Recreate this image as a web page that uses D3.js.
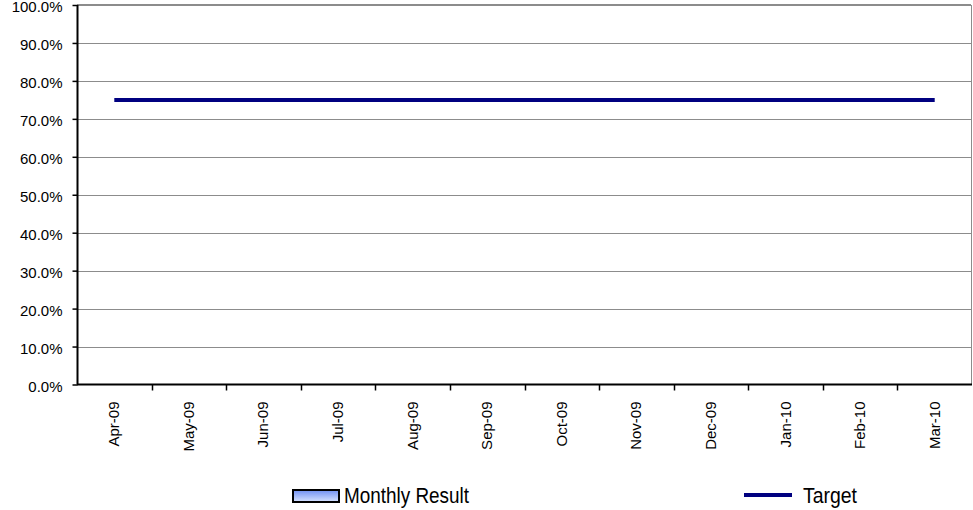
<!DOCTYPE html>
<html>
<head>
<meta charset="utf-8">
<script src="https://cdn.jsdelivr.net/npm/d3@7"></script>
<style>
  html, body { margin: 0; padding: 0; background: #fff; }
  svg { display: block; font-family: "Liberation Sans", Arial, sans-serif; }
</style>
</head>
<body>
<svg id="chart" width="973" height="510"></svg>
<script>
// Months of the reporting year
const months = ["Apr-09", "May-09", "Jun-09", "Jul-09", "Aug-09", "Sep-09",
                "Oct-09", "Nov-09", "Dec-09", "Jan-10", "Feb-10", "Mar-10"];
// Monthly result (no results recorded yet)
const monthlyResult = [null, null, null, null, null, null, null, null, null, null, null, null];
// Target rate for each month
const target = [0.75, 0.75, 0.75, 0.75, 0.75, 0.75, 0.75, 0.75, 0.75, 0.75, 0.75, 0.75];
// Y-axis ticks
const yTicks = [0, 0.1, 0.2, 0.3, 0.4, 0.5, 0.6, 0.7, 0.8, 0.9, 1.0];

const svg = d3.select("#chart");
const m = { left: 77, right: 972, top: 5, bottom: 384.5 };

const x = d3.scaleBand().domain(months).range([m.left, m.right]).paddingInner(0.5).paddingOuter(0.25);
const xPos = d3.scalePoint().domain(months).range([m.left, m.right]).padding(0.5);
const y = d3.scaleLinear().domain([0, 1]).range([m.bottom, m.top]);

// Gridlines
svg.append("g").selectAll("line").data(yTicks.filter(d => d > 0)).join("line")
  .attr("x1", m.left).attr("x2", 971)
  .attr("y1", d => d === 1 ? y(d) : Math.round(y(d)) + 0.5)
  .attr("y2", d => d === 1 ? y(d) : Math.round(y(d)) + 0.5)
  .attr("stroke", "#8c8c8c").attr("stroke-width", d => d === 1 ? 2 : 1);

// Right border of the plot area
svg.append("line")
  .attr("x1", 971.5).attr("x2", 971.5)
  .attr("y1", m.top).attr("y2", m.bottom)
  .attr("stroke", "#8c8c8c");

// Fill gradient for the monthly result bars
const grad = svg.append("defs").append("linearGradient").attr("id", "barGrad")
  .attr("x1", 0).attr("x2", 0).attr("y1", 0).attr("y2", 1);
grad.append("stop").attr("offset", "0%").attr("stop-color", "#6f8ff2");
grad.append("stop").attr("offset", "100%").attr("stop-color", "#d8e4ff");

// Monthly result bars
svg.append("g").selectAll("rect")
  .data(months.map((mo, i) => ({ mo, v: monthlyResult[i] })).filter(d => d.v != null))
  .join("rect")
  .attr("x", d => x(d.mo)).attr("width", x.bandwidth())
  .attr("y", d => y(d.v)).attr("height", d => y(0) - y(d.v))
  .attr("fill", "url(#barGrad)").attr("stroke", "#000");

// Y axis
const yAxis = d3.axisLeft(y).tickValues(yTicks).tickFormat(d3.format(".1%")).tickSize(5).tickPadding(10);
const gy = svg.append("g").attr("transform", `translate(${m.left + 0.5},0)`).call(yAxis);
gy.select(".domain").attr("stroke", "#000").attr("stroke-width", 2).attr("d", `M0,${m.top}V${m.bottom}`);
gy.selectAll(".tick line").attr("stroke", "#000").attr("stroke-width", 1.5);
gy.selectAll("text").attr("font-size", 15).attr("fill", "#000").attr("dy", "0.45em")
  .attr("font-family", "'Liberation Sans', Arial, sans-serif");

// X axis: ticks at category boundaries
const step = (m.right - m.left) / months.length;
const boundaries = d3.range(1, months.length).map(i => m.left + i * step);
const gx = svg.append("g");
gx.append("line").attr("x1", m.left).attr("x2", 972)
  .attr("y1", m.bottom).attr("y2", m.bottom)
  .attr("stroke", "#000").attr("stroke-width", 2);
gx.selectAll("line.tk").data(boundaries).join("line").attr("class", "tk")
  .attr("x1", d => Math.round(d) + 0.5).attr("x2", d => Math.round(d) + 0.5)
  .attr("y1", m.bottom).attr("y2", m.bottom + 6)
  .attr("stroke", "#000").attr("stroke-width", 1.5);
gx.selectAll("text").data(months).join("text")
  .attr("transform", d => `translate(${xPos(d) + 5},${m.bottom + 17}) rotate(-90)`)
  .attr("text-anchor", "end")
  .attr("font-size", 15).attr("fill", "#000")
  .text(d => d);

// Target line
svg.append("path")
  .datum(months.map((mo, i) => [xPos(mo), y(target[i])]))
  .attr("d", d3.line())
  .attr("fill", "none").attr("stroke", "#000080").attr("stroke-width", 4);

// Legend
const lg = svg.append("g").attr("font-size", 22).attr("fill", "#000")
  .attr("font-family", "'Liberation Sans Narrow', 'Liberation Sans', Arial, sans-serif");
lg.append("rect").attr("x", 293).attr("y", 490).attr("width", 46).attr("height", 12)
  .attr("fill", "url(#barGrad)").attr("stroke", "#000").attr("stroke-width", 2);
lg.append("text").attr("x", 344).attr("y", 503)
  .attr("textLength", 125).attr("lengthAdjust", "spacingAndGlyphs")
  .text("Monthly Result");
lg.append("line").attr("x1", 744).attr("x2", 792).attr("y1", 495).attr("y2", 495)
  .attr("stroke", "#000080").attr("stroke-width", 4);
lg.append("text").attr("x", 803).attr("y", 503)
  .attr("textLength", 54).attr("lengthAdjust", "spacingAndGlyphs")
  .text("Target");
</script>
</body>
</html>
